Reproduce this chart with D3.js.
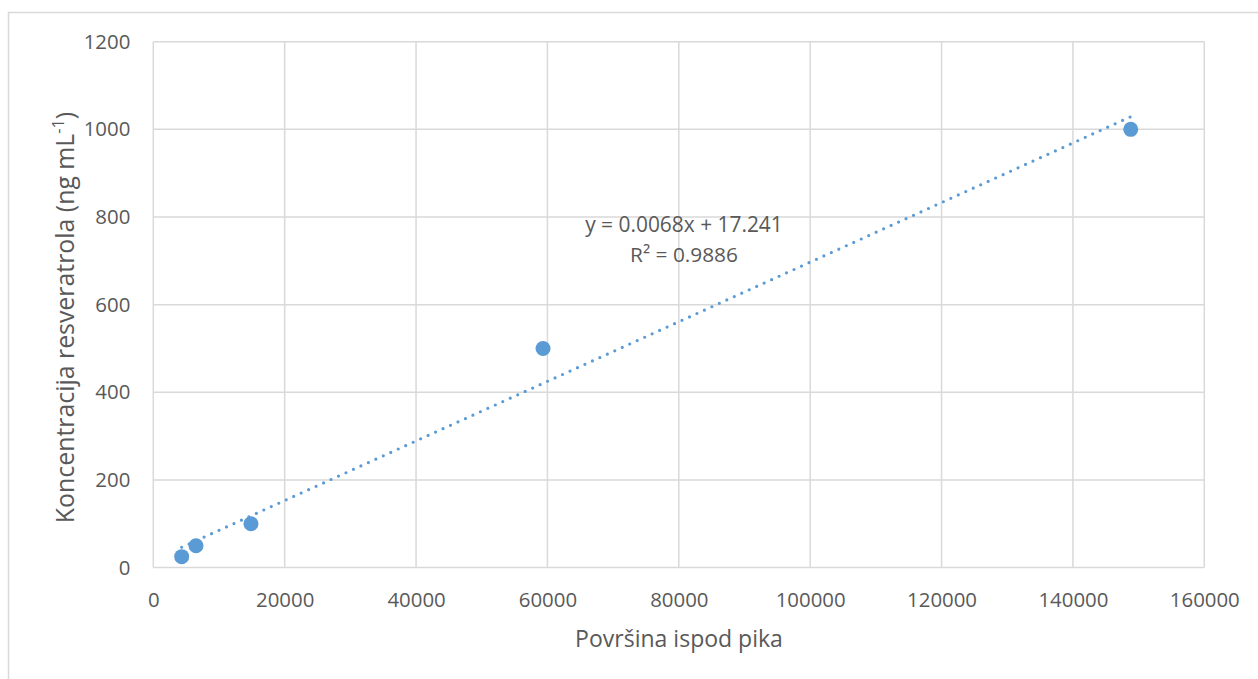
<!DOCTYPE html>
<html>
<head>
<meta charset="utf-8">
<script src="https://cdn.jsdelivr.net/npm/d3@7/dist/d3.min.js"></script>
<style>
  html, body { margin: 0; padding: 0; background: #fff; }
  svg { display: block; }
  text { font-family: "Open Sans", Lato, sans-serif; fill: #595959; }
</style>
</head>
<body>
<svg id="chart" width="1258" height="679"></svg>
<script>
// Data
const areas = [4320, 6500, 14870, 59330, 148800];          // Površina ispod pika
const concentrations = [25, 50, 100, 500, 1000];            // ng mL-1
const xTicks = [0, 20000, 40000, 60000, 80000, 100000, 120000, 140000, 160000];
const yTicks = [0, 200, 400, 600, 800, 1000, 1200];
const equationLines = ["y = 0.0068x + 17.241", "R² = 0.9886"];

const W = 1258, H = 679;
const margin = { left: 153.3, right: W - 1204.3, top: 41.7, bottom: H - 567.6 };
const svg = d3.select("#chart");
const FONT = "'Open Sans', Lato, sans-serif";

// scale a text element's font-size so its rendered width matches a target
function fit(sel, target) {
  const node = sel.node();
  const fs = parseFloat(sel.attr("font-size"));
  const w = node.getComputedTextLength();
  const nf = fs * target / w;
  sel.attr("font-size", nf);
  sel.selectAll("tspan").each(function() {
    const t = d3.select(this);
    if (t.attr("font-size")) t.attr("font-size", parseFloat(t.attr("font-size")) * nf / fs);
    if (t.attr("dy")) t.attr("dy", parseFloat(t.attr("dy")) * nf / fs);
  });
  return nf;
}

// outer chart border
svg.append("rect")
  .attr("x", 8.5).attr("y", 12.5)
  .attr("width", W + 10).attr("height", H + 10)
  .attr("fill", "none").attr("stroke", "#D9D9D9").attr("stroke-width", 1.5);

const x = d3.scaleLinear().domain([0, 160000]).range([margin.left, W - margin.right]);
const y = d3.scaleLinear().domain([0, 1200]).range([H - margin.bottom, margin.top]);

// gridlines
const grid = svg.append("g");
grid.selectAll("line.h").data(yTicks).join("line")
  .attr("x1", x(0)).attr("x2", x(160000))
  .attr("y1", d => y(d)).attr("y2", d => y(d))
  .attr("stroke", "#D9D9D9").attr("stroke-width", 1.5);
grid.selectAll("line.v").data(xTicks).join("line")
  .attr("y1", y(0)).attr("y2", y(1200))
  .attr("x1", d => x(d)).attr("x2", d => x(d))
  .attr("stroke", "#D9D9D9").attr("stroke-width", 1.5);

// axes (labels only)
const xAxis = svg.append("g")
  .attr("transform", `translate(0,${y(0)})`)
  .call(d3.axisBottom(x).tickValues(xTicks).tickFormat(d3.format("d")).tickSize(0).tickPadding(22));
xAxis.select(".domain").remove();
xAxis.selectAll("text").attr("font-size", 20).attr("font-family", FONT).attr("fill", "#595959");
const tickFs = fit(xAxis.selectAll("text").filter(d => d === 160000), 70);
xAxis.selectAll("text").attr("font-size", tickFs).attr("dy", null).attr("y", null)
  .attr("transform", "translate(0,39.7)");

const yAxis = svg.append("g")
  .attr("transform", `translate(${x(0)},0)`)
  .call(d3.axisLeft(y).tickValues(yTicks).tickFormat(d3.format("d")).tickSize(0).tickPadding(23));
yAxis.select(".domain").remove();
yAxis.selectAll("text").attr("font-size", tickFs).attr("font-family", FONT).attr("fill", "#595959");

// trendline (least squares from data)
const n = areas.length;
const mx = d3.mean(areas), my = d3.mean(concentrations);
let sxy = 0, sxx = 0;
for (let i = 0; i < n; i++) { sxy += (areas[i]-mx)*(concentrations[i]-my); sxx += (areas[i]-mx)**2; }
const slope = sxy / sxx, intercept = my - slope * mx;
const x0 = d3.min(areas), x1 = d3.max(areas);
svg.append("line")
  .attr("x1", x(x0)).attr("y1", y(slope*x0 + intercept))
  .attr("x2", x(x1)).attr("y2", y(slope*x1 + intercept))
  .attr("stroke", "#5B9BD5").attr("stroke-width", 3.2)
  .attr("stroke-linecap", "round").attr("stroke-dasharray", "0 8.2");

// points
svg.append("g").selectAll("circle").data(areas).join("circle")
  .attr("cx", d => x(d)).attr("cy", (d, i) => y(concentrations[i]))
  .attr("r", 7.5).attr("fill", "#5B9BD5");

// equation label
const eqWidths = [197.7, 108];
svg.append("g").selectAll("text").data(equationLines).join("text")
  .attr("x", 684).attr("y", (d, i) => 231.7 + i * 30)
  .attr("text-anchor", "middle").attr("font-size", 20)
  .text(d => d)
  .each(function(d, i) { fit(d3.select(this), eqWidths[i]); });

// axis titles
const xt = svg.append("text")
  .attr("x", 679).attr("y", 646.7)
  .attr("text-anchor", "middle").attr("font-size", 20)
  .text("Površina ispod pika");
fit(xt, 208);

const yt = svg.append("text")
  .attr("transform", `translate(74,317.5) rotate(-90)`)
  .attr("text-anchor", "middle").attr("font-size", 20);
yt.append("tspan").text("Koncentracija resveratrola (ng mL");
yt.append("tspan").attr("font-size", 13).attr("dy", -8).text("-1");
yt.append("tspan").attr("dy", 8).text(")");
fit(yt, 411.6);
</script>
</body>
</html>
